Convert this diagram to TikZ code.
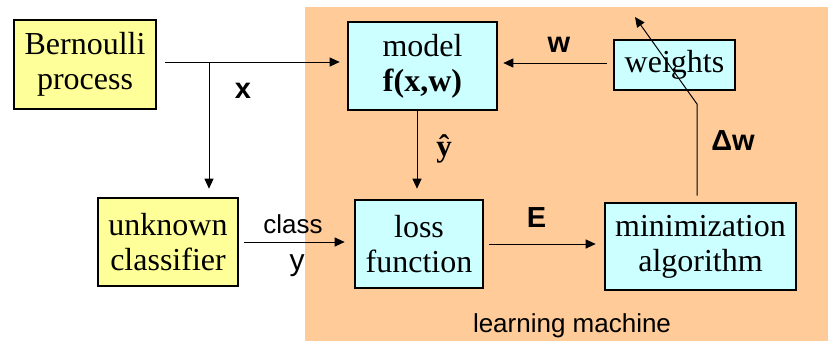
\documentclass[tikz,border=0pt]{standalone}
\usepackage{fontspec}
\setmainfont{Liberation Serif}
\setsansfont{Liberation Sans}
\usetikzlibrary{arrows.meta}
\definecolor{paleyellow}{HTML}{FFFF99}
\definecolor{palecyan}{HTML}{CCFFFF}
\definecolor{machinebg}{HTML}{FFCC99}
\begin{document}
\begin{tikzpicture}[x=1pt,y=-1pt,
  block/.style={draw=black, line width=2.6pt, align=center, inner sep=0pt,
    font=\fontsize{32}{35}\selectfont},
  srcbox/.style={block, fill=paleyellow},
  learnbox/.style={block, fill=palecyan},
  flow/.style={line width=1pt, -{Triangle[length=10pt,width=9pt]}},
  lbl/.style={anchor=base, font=\sffamily\bfseries\fontsize{29}{29}\selectfont},
  txt/.style={anchor=base, font=\sffamily\fontsize{26}{26}\selectfont}]
\useasboundingbox (0,0) rectangle (828,341);
% learning machine region
\fill[machinebg] (305,7) rectangle (828,341);

% blocks
\node[srcbox, minimum width=142pt, minimum height=89pt] (bern) at (85,64.5) {Bernoulli\\process};
\node[srcbox, minimum width=140pt, minimum height=88pt] (unknown) at (168,242) {unknown\\classifier};
\node[learnbox, minimum width=149pt, minimum height=88pt] (model) at (422.5,66) {model\\\textbf{f(x,w)}};
\node[learnbox, minimum width=128pt, minimum height=88pt] (loss) at (419,244) {loss\\function};
\node[learnbox, minimum width=121pt, minimum height=50pt] (weights) at (674.5,65) {weights};
\node[learnbox, minimum width=191pt, minimum height=87pt] (mini) at (700.5,246.5) {minimization\\algorithm};

% labels
\node[lbl] (lx) at (243,98) {x};
\node[lbl] (lw) at (559,52) {w};
\node[lbl] (ldw) at (733,150) {Δw};
\node[lbl] (le) at (536.5,227) {E};
\node[anchor=base, font=\bfseries\fontsize{31}{31}\selectfont] (lyhat) at (444,156) {ŷ};
\node[txt] (lclass) at (293,233) {class};
\node[txt, font=\sffamily\fontsize{30}{30}\selectfont] (ly) at (297,270) {y};
\node[txt] (lmachine) at (572,332) {learning machine};

% helper points
\coordinate (split) at (209,62);
\coordinate (wrow) at (0,63);
\coordinate (yhatcol) at (417,0);
\coordinate (bend) at (697,104);
\coordinate (dwtip) at (635,17);

% connectors
\draw[flow, shorten <=8pt, shorten >=7pt] (bern.east |- split) -- (model.west |- split);
\draw[flow, shorten >=8pt] (split) -- (split |- unknown.north);
\draw[flow, shorten >=10pt] (yhatcol |- model.south) -- (yhatcol |- loss.north);
\draw[flow, shorten <=6pt, shorten >=5pt] (weights.west |- wrow) -- (model.east |- wrow);
\draw[flow, shorten <=5pt, shorten >=9pt] (unknown.east) -- (loss.west |- unknown.east);
\draw[flow, shorten <=5pt, shorten >=8pt] (loss.east) -- (mini.west |- loss.east);
\draw[flow, shorten <=6pt] (bend |- mini.north) -- (bend) -- (dwtip);
\end{tikzpicture}
\end{document}
